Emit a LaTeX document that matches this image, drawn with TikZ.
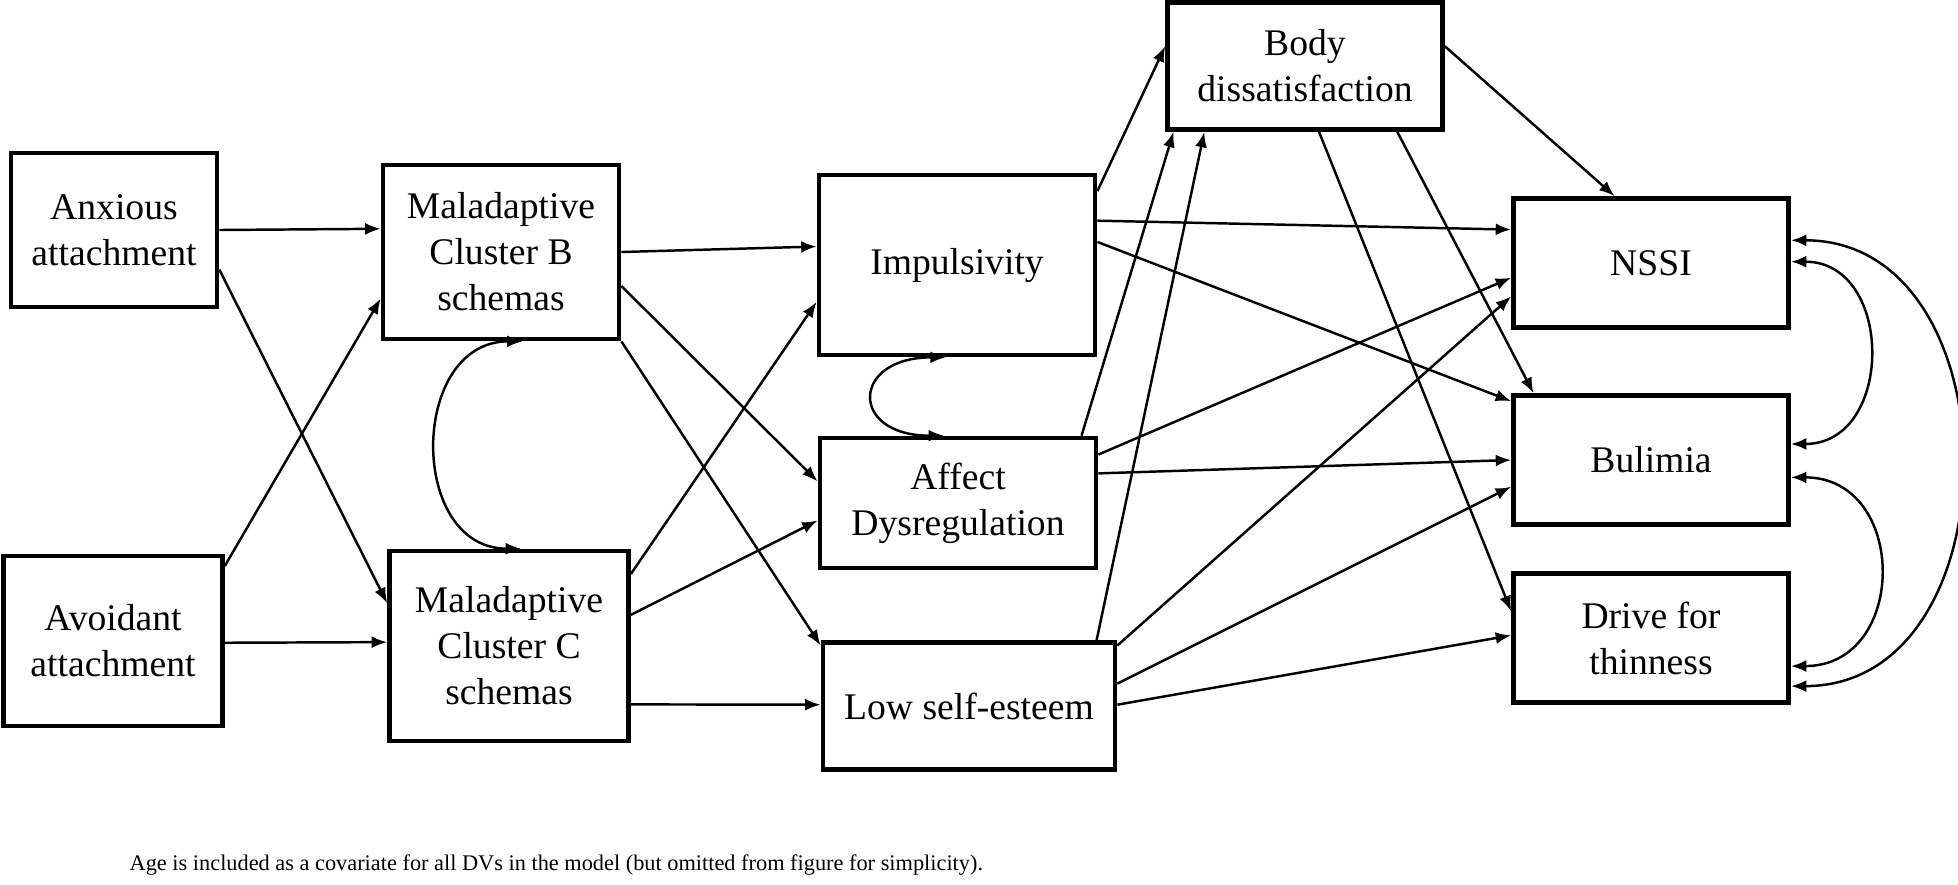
\documentclass[tikz,border=0pt]{standalone}
\usepackage{fontspec}
\setmainfont{Liberation Serif}
\usetikzlibrary{arrows.meta,calc}
\tikzset{
    varbox/.style={draw,line width=1.3pt,align=center,inner sep=0pt,
        font=\fontsize{10.7}{13.1}\selectfont},
    effect/.style={line width=0.7pt,-{Latex[length=4.4pt,width=3.4pt]}},
    cov/.style={line width=0.7pt,{Latex[length=4.4pt,width=3.4pt]}-{Latex[length=4.4pt,width=3.4pt]}},
}
\begin{document}
\begin{tikzpicture}[x=0.01cm,y=-0.01cm]
    \useasboundingbox (0,0) rectangle (1958,884);
    %predictors
    \node[varbox,minimum width=2.06cm,minimum height=1.54cm] (anx) at (114,230) {Anxious\\attachment};
    \node[varbox,minimum width=2.19cm,minimum height=1.70cm] (avo) at (113,641) {Avoidant\\attachment};
    \node[varbox,minimum width=2.36cm,minimum height=1.74cm] (malb) at (501,252) {Maladaptive\\Cluster B\\schemas};
    \node[varbox,minimum width=2.39cm,minimum height=1.90cm] (malc) at (509,646) {Maladaptive\\Cluster C\\schemas};
    %mediators
    \node[varbox,minimum width=2.76cm,minimum height=1.80cm] (imp) at (957,265) {Impulsivity};
    \node[varbox,minimum width=2.76cm,minimum height=1.30cm] (aff) at (958,503) {Affect\\Dysregulation};
    \node[varbox,minimum width=2.92cm,minimum height=1.27cm] (low) at (969,706) {Low self-esteem};
    \node[varbox,minimum width=2.75cm,minimum height=1.27cm] (body) at (1305,66) {Body\\dissatisfaction};
    %outcomes
    \node[varbox,minimum width=2.75cm,minimum height=1.29cm] (nssi) at (1651,263) {NSSI};
    \node[varbox,minimum width=2.75cm,minimum height=1.29cm] (bul) at (1651,460) {Bulimia};
    \node[varbox,minimum width=2.75cm,minimum height=1.29cm] (drv) at (1651,638) {Drive for\\thinness};
    %attachment to schemas
    \draw[effect] ($(anx.north east)!.50!(anx.south east)$) -- ($(malb.north west)!.37!(malb.south west)$);
    \draw[effect] ($(anx.north east)!.75!(anx.south east)$) -- ($(malc.north west)!.28!(malc.south west)$);
    \draw[effect] ($(avo.north east)!.07!(avo.south east)$) -- ($(malb.north west)!.76!(malb.south west)$);
    \draw[effect] ($(avo.north east)!.51!(avo.south east)$) -- ($(malc.north west)!.48!(malc.south west)$);
    \draw[cov] ($(malb.south west)!.59!(malb.south east)$) to[out=180,in=180,looseness=1.4] ($(malc.north west)!.55!(malc.north east)$);
    %schemas to mediators
    \draw[effect] ($(malb.north east)!.50!(malb.south east)$) -- ($(imp.north west)!.40!(imp.south west)$);
    \draw[effect] ($(malb.north east)!.69!(malb.south east)$) -- ($(aff.north west)!.34!(aff.south west)$);
    \draw[effect] (malb.south east) -- ($(low.north west)!.04!(low.south west)$);
    \draw[effect] ($(malc.north east)!.13!(malc.south east)$) -- ($(imp.north west)!.70!(imp.south west)$);
    \draw[effect] ($(malc.north east)!.34!(malc.south east)$) -- ($(aff.north west)!.63!(aff.south west)$);
    \draw[effect] ($(malc.north east)!.80!(malc.south east)$) -- ($(low.north west)!.49!(low.south west)$);
    \draw[cov] ($(imp.south west)!.46!(imp.south east)$) to[out=180,in=180,looseness=3.1] ($(aff.north west)!.45!(aff.north east)$);
    %mediators to outcomes
    \draw[effect] ($(imp.north east)!.10!(imp.south east)$) -- ($(body.north west)!.35!(body.south west)$);
    \draw[effect] ($(imp.north east)!.26!(imp.south east)$) -- ($(nssi.north west)!.25!(nssi.south west)$);
    \draw[effect] ($(imp.north east)!.375!(imp.south east)$) -- ($(bul.north west)!.06!(bul.south west)$);
    \draw[effect] ($(aff.north west)!.94!(aff.north east)$) -- ($(body.south west)!.03!(body.south east)$);
    \draw[effect] ($(aff.north east)!.14!(aff.south east)$) -- ($(nssi.north west)!.61!(nssi.south west)$);
    \draw[effect] ($(aff.north east)!.28!(aff.south east)$) -- ($(bul.north west)!.50!(bul.south west)$);
    \draw[effect] ($(low.north west)!.93!(low.north east)$) -- ($(body.south west)!.14!(body.south east)$);
    \draw[effect] ($(low.north east)!.04!(low.south east)$) -- ($(nssi.north west)!.75!(nssi.south west)$);
    \draw[effect] ($(low.north east)!.33!(low.south east)$) -- ($(bul.north west)!.70!(bul.south west)$);
    \draw[effect] ($(low.north east)!.49!(low.south east)$) -- ($(drv.north west)!.48!(drv.south west)$);
    \draw[effect] ($(body.north east)!.35!(body.south east)$) -- ($(nssi.north west)!.37!(nssi.north east)$);
    \draw[effect] ($(body.south west)!.83!(body.south east)$) -- ($(bul.north west)!.08!(bul.north east)$);
    \draw[effect] ($(body.south west)!.55!(body.south east)$) -- ($(drv.north west)!.30!(drv.south west)$);
    %outcome covariances
    \draw[cov] ($(nssi.north east)!.49!(nssi.south east)$) to[out=0,in=0,looseness=1.46] ($(bul.north east)!.38!(bul.south east)$);
    \draw[cov] ($(nssi.north east)!.33!(nssi.south east)$) to[out=0,in=0,looseness=1.3] ($(drv.north east)!.86!(drv.south east)$);
    \draw[cov] ($(bul.north east)!.63!(bul.south east)$) to[out=0,in=0,looseness=1.6] ($(drv.north east)!.71!(drv.south east)$);
    %note
    \node[anchor=base west,inner sep=0pt,font=\fontsize{6.35}{7.5}\selectfont] (note) at (129,870)
        {Age is included as a covariate for all DVs in the model (but omitted from figure for simplicity).};
\end{tikzpicture}
\end{document}
